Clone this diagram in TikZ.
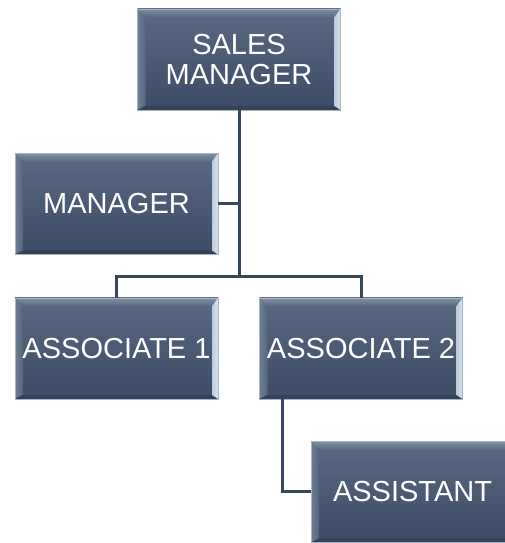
\documentclass[tikz,border=0pt]{standalone}
\usepackage{fontspec}
\setmainfont{Liberation Sans}
\usetikzlibrary{calc}

\definecolor{bodytop}{HTML}{5A6A82}
\definecolor{bodybot}{HTML}{3C4B66}
\definecolor{edgeline}{HTML}{A7B4C3}
\definecolor{topgrey}{HTML}{7F8EA2}
\definecolor{toplight}{HTML}{B9C5D2}
\definecolor{leftlight}{HTML}{6E7E95}
\definecolor{rightlight}{HTML}{D6E3F0}
\definecolor{bottomdark}{HTML}{33415A}
\definecolor{linkcol}{HTML}{36465D}

\tikzset{
  box/.style={
    draw=edgeline, line width=0.6pt,
    minimum width=203pt, minimum height=101pt, inner sep=0pt,
    top color=bodytop, bottom color=bodybot,
    text=white, align=center,
    font=\fontsize{29pt}{30pt}\selectfont,
    path picture={
      \path (path picture bounding box.north west) coordinate (pnw)
            (path picture bounding box.north east) coordinate (pne)
            (path picture bounding box.south west) coordinate (psw)
            (path picture bounding box.south east) coordinate (pse);
      % left bevel
      \shade[left color=leftlight, right color=bodytop!85!bodybot]
        (pnw) -- ($(pnw)+(8pt,-8pt)$) -- ($(psw)+(8pt,4pt)$) -- (psw) -- cycle;
      % bottom bevel
      \fill[bottomdark]
        (psw) -- ($(psw)+(8pt,4pt)$) -- ($(pse)+(-6pt,4pt)$) -- (pse) -- cycle;
      % top bevel
      \shade[top color=topgrey, middle color=toplight, bottom color=bodytop]
        (pnw) -- (pne) -- ($(pne)+(-6pt,-8pt)$) -- ($(pnw)+(8pt,-8pt)$) -- cycle;
      % right bevel
      \shade[left color=rightlight!80!bodytop, right color=rightlight]
        (pne) -- (pse) -- ($(pse)+(-6pt,4pt)$) -- ($(pne)+(-6pt,-8pt)$) -- cycle;
    }
  },
  link/.style={draw=linkcol, line width=3pt}
}

\begin{document}
\begin{tikzpicture}[x=1pt, y=1pt]
  \clip (0,0) rectangle (505,543);
  \fill[white] (0,0) rectangle (505,543);

  % boxes
  \node[box] (sm)   at (239,483.5) {SALES\\MANAGER};
  \node[box] (mgr)  at (116.5,339) {MANAGER};
  \node[box] (a1)   at (116.5,194.5) {ASSOCIATE 1};
  \node[box] (a2)   at (361,194.5) {ASSOCIATE 2};
  \node[box] (asst) at (412.5,51) {ASSISTANT};

  \coordinate (bus) at (239,266);
  \coordinate (a2drop) at ($(a2.south west)+(23pt,0)$);

  % connectors
  \draw[link] (sm.south) -- (bus);
  \draw[link] (mgr.east) -- (sm.south |- mgr.east);
  \draw[link] (a1.north) |- (a2.north |- bus) -- (a2.north);
  \draw[link] (a2drop) |- (asst.west);
\end{tikzpicture}
\end{document}
